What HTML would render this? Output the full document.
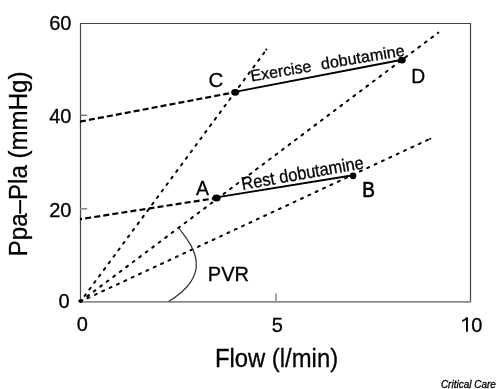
<!DOCTYPE html>
<html><head><meta charset="utf-8">
<style>
html,body{margin:0;padding:0;background:#fff;}
body{width:500px;height:389px;overflow:hidden;}
svg{display:block;will-change:transform;}
text{font-family:"Liberation Sans",sans-serif;fill:#000;stroke:#000;stroke-width:0.3px;}
</style></head>
<body>
<svg width="500" height="389" viewBox="0 0 500 389">
<!-- frame -->
<g fill="none" stroke-linecap="butt">
<line x1="80" y1="23.5" x2="471" y2="23.5" stroke="#444" stroke-width="1.2"/>
<line x1="470.5" y1="23" x2="470.5" y2="302" stroke="#444" stroke-width="1.2"/>
<line x1="80.5" y1="23" x2="80.5" y2="302" stroke="#444" stroke-width="1.2"/>
<line x1="80" y1="301.9" x2="471.2" y2="301.9" stroke="#8a8a8a" stroke-width="1.9"/>
<!-- ticks -->
<line x1="80" y1="115.3" x2="87.2" y2="115.3" stroke="#666" stroke-width="1.3"/>
<line x1="80" y1="208.8" x2="87.2" y2="208.8" stroke="#8a8a8a" stroke-width="1.6"/>
<line x1="275.9" y1="293.5" x2="275.9" y2="301" stroke="#888" stroke-width="1.5"/>
</g>
<!-- dotted lines from origin -->
<g fill="none" stroke="#000" stroke-width="2" stroke-linecap="round" stroke-dasharray="2.1 6.02">
<line x1="80.5" y1="301.5" x2="266.9" y2="49" stroke-dashoffset="1.25"/>
<line x1="80.5" y1="301.5" x2="438.3" y2="32.6" stroke-dashoffset="7.77"/>
<line x1="80.5" y1="301.5" x2="430.9" y2="138.4" stroke-dashoffset="0.4"/>
</g>
<!-- dashed lines -->
<g fill="none" stroke="#000" stroke-width="2.2">
<line x1="80" y1="121.6" x2="235" y2="92.2" stroke-dasharray="6 3.11" stroke-dashoffset="0"/>
<line x1="80" y1="219.2" x2="216.5" y2="198" stroke-dasharray="6 3.15" stroke-dashoffset="3.89"/>
</g>
<!-- solid -->
<g fill="none" stroke="#000" stroke-width="1.9">
<line x1="235" y1="91.9" x2="402" y2="59.7"/>
<line x1="216.5" y1="197.4" x2="353.1" y2="175.2"/>
</g>
<!-- PVR arc -->
<path d="M178.5,227.2 C184.3,237.7 220.9,269.9 168.5,301.5" fill="none" stroke="#333" stroke-width="1.25"/>
<!-- dots -->
<g fill="#000">
<ellipse cx="216.5" cy="198" rx="4.1" ry="3.6"/>
<ellipse cx="353.1" cy="175.8" rx="3.3" ry="3.4"/>
<ellipse cx="235.2" cy="92.3" rx="4" ry="3.4"/>
<ellipse cx="401.9" cy="60.1" rx="3.9" ry="3.45"/>
<ellipse cx="80.5" cy="301" rx="2.3" ry="1.8"/>
<circle cx="266.3" cy="49.6" r="1.05"/>
<circle cx="430.3" cy="138.7" r="1.05"/>
</g>
<!-- axis numbers -->
<g font-size="20">
<text x="71.5" y="30.4" text-anchor="end">60</text>
<text x="71.5" y="123" text-anchor="end">40</text>
<text x="71.5" y="216.8" text-anchor="end">20</text>
<text x="69.6" y="308.1" text-anchor="end">0</text>
<text x="82.2" y="331.3" text-anchor="middle">0</text>
<text x="277.3" y="331.8" text-anchor="middle">5</text>
<text x="471.2" y="331.8">0</text>
</g>
<path d="M466,317.2 L467.9,317.2 L467.9,331.7 L466,331.7 L466,319.7 C465,320.7 463.6,321.5 462.2,322 L462.2,320.1 C463.9,319.4 465.3,318.4 466,317.2 Z" fill="#000"/>
<!-- point labels -->
<g font-size="21">
<text transform="translate(208.4,87) scale(0.98,1)">C</text>
<text transform="translate(411.3,82.5) scale(0.92,1)">D</text>
<text transform="translate(195.9,194.5) scale(0.93,1)">A</text>
<text font-size="22" style="stroke-width:0.7px" transform="translate(362.2,196.8) scale(0.86,0.98)">B</text>
<text font-size="20" x="207.8" y="280.6">PVR</text>
</g>
<!-- rotated line labels -->
<text font-size="16" xml:space="preserve" style="white-space:pre" transform="translate(251.5,81.5) rotate(-9.6)">Exercise  <tspan dx="1" letter-spacing="0.12">dobutamine</tspan></text>
<text font-size="16.4" transform="translate(242.6,190) rotate(-10.1) scale(1,1.1)">Rest dobutamine</text>
<!-- axis titles -->
<text font-size="25" text-anchor="middle" transform="translate(276.5,367) scale(0.954,1)">Flow (l/min)</text>
<text text-anchor="middle" transform="translate(27,163.9) rotate(-90) scale(1,1.033)" font-size="24.1">Ppa–Pla (mmHg)</text>
<!-- credit -->
<text font-size="10" font-style="italic" x="440.9" y="387.5">Critical Care</text>
</svg>
</body></html>
